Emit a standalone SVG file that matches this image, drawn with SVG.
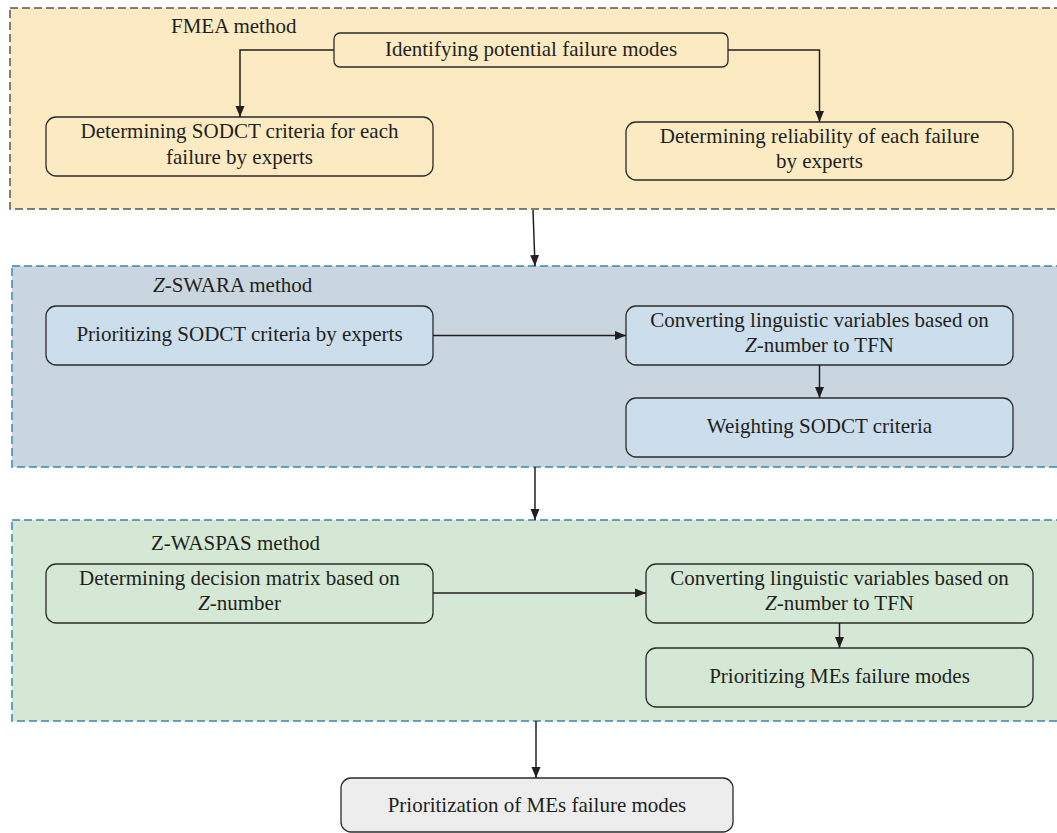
<svg xmlns="http://www.w3.org/2000/svg" width="1057" height="833" viewBox="0 0 1057 833">
<defs>
<style>
.t{font-family:'Liberation Serif','DejaVu Serif',serif;font-size:21px;fill:#231F20;text-anchor:middle}
.tl{font-family:'Liberation Serif','DejaVu Serif',serif;font-size:21px;fill:#231F20}
.node{stroke:#2b2b2b;stroke-width:1.3}
.sec{stroke-width:1.5;stroke-dasharray:8 4}
.conn{fill:none;stroke:#231F20;stroke-width:1.5}
</style>
<marker id="arr" markerUnits="userSpaceOnUse" markerWidth="12" markerHeight="12" viewBox="0 0 12 12" refX="11" refY="6" orient="auto">
<path d="M0,1.5 L11,6 L0,10.5 Z" fill="#231F20"/>
</marker>
</defs>
<rect width="1057" height="833" fill="#ffffff"/>

<g id="sec-fmea">
<rect class="sec" x="10" y="8" width="1070" height="201" fill="#FCEBC2" stroke="#555555"/>
<text class="tl" x="171" y="33" font-family="Liberation Serif, serif">FMEA method</text>
</g>
<g id="sec-zswara">
<rect class="sec" x="12" y="266" width="1070" height="201" fill="#C9D6E0" stroke="#3B84AD"/>
<text class="tl" x="153" y="292"><tspan font-style="italic">Z</tspan>-SWARA method</text>
</g>
<g id="sec-zwaspas">
<rect class="sec" x="12" y="520" width="1070" height="201" fill="#D4E8D5" stroke="#3B84AD"/>
<text class="tl" x="151" y="550">Z-WASPAS method</text>
</g>

<g id="n-identify">
<rect class="node" x="334" y="33" width="394" height="34" rx="6" fill="#FCEBC2"/>
<text class="t" x="531" y="56">Identifying potential failure modes</text>
</g>
<g id="n-sodct">
<rect class="node" x="46" y="117" width="387" height="59" rx="10" fill="#FCEBC2"/>
<text class="t" x="239.5" y="138">Determining SODCT criteria for each</text>
<text class="t" x="239.5" y="164">failure by experts</text>
</g>
<g id="n-reliability">
<rect class="node" x="626" y="122" width="387" height="58" rx="10" fill="#FCEBC2"/>
<text class="t" x="819.5" y="143">Determining reliability of each failure</text>
<text class="t" x="819.5" y="168">by experts</text>
</g>

<g id="n-prio-sodct">
<rect class="node" x="46" y="306" width="387" height="59" rx="10" fill="#CCDDEC"/>
<text class="t" x="239.5" y="341">Prioritizing SODCT criteria by experts</text>
</g>
<g id="n-convert1">
<rect class="node" x="626" y="306" width="387" height="59" rx="10" fill="#CCDDEC"/>
<text class="t" x="819.5" y="327">Converting linguistic variables based on</text>
<text class="t" x="819.5" y="352"><tspan font-style="italic">Z</tspan>-number to TFN</text>
</g>
<g id="n-weight">
<rect class="node" x="626" y="398" width="387" height="59" rx="10" fill="#CCDDEC"/>
<text class="t" x="819.5" y="433">Weighting SODCT criteria</text>
</g>

<g id="n-decision">
<rect class="node" x="46" y="564" width="387" height="59" rx="10" fill="#D4E8D5"/>
<text class="t" x="239.5" y="585">Determining decision matrix based on</text>
<text class="t" x="239.5" y="610"><tspan font-style="italic">Z</tspan>-number</text>
</g>
<g id="n-convert2">
<rect class="node" x="646" y="564" width="387" height="59" rx="10" fill="#D4E8D5"/>
<text class="t" x="839.5" y="585">Converting linguistic variables based on</text>
<text class="t" x="839.5" y="610"><tspan font-style="italic">Z</tspan>-number to TFN</text>
</g>
<g id="n-prio-mes">
<rect class="node" x="646" y="648" width="387" height="59" rx="10" fill="#D4E8D5"/>
<text class="t" x="839.5" y="683">Prioritizing MEs failure modes</text>
</g>

<g id="n-final">
<rect class="node" x="341" y="778" width="392" height="54" rx="10" fill="#EDEDED"/>
<text class="t" x="537" y="812">Prioritization of MEs failure modes</text>
</g>

<g id="connectors">
<path class="conn" d="M334,50 H240 V117" marker-end="url(#arr)"/>
<path class="conn" d="M728,50 H819.5 V122" marker-end="url(#arr)"/>
<path class="conn" d="M533,210 L535,266" marker-end="url(#arr)"/>
<path class="conn" d="M433,335.5 H626" marker-end="url(#arr)"/>
<path class="conn" d="M819.5,365 V398" marker-end="url(#arr)"/>
<path class="conn" d="M535,467 V520" marker-end="url(#arr)"/>
<path class="conn" d="M433,593 H646" marker-end="url(#arr)"/>
<path class="conn" d="M839.5,623 V648" marker-end="url(#arr)"/>
<path class="conn" d="M536,721 V778" marker-end="url(#arr)"/>
</g>
</svg>
